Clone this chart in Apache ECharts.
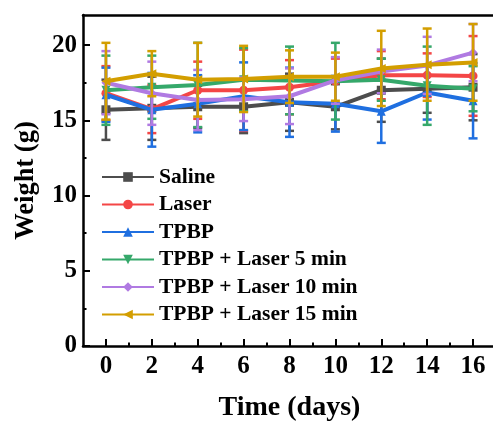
<!DOCTYPE html>
<html>
<head>
<meta charset="utf-8">
<script src="https://cdn.jsdelivr.net/npm/echarts@6/dist/echarts.min.js"></script>
<style>
  html, body { margin: 0; padding: 0; background: #fff; }
  #chart { width: 493px; height: 421px; }
</style>
</head>
<body>
<div id="chart"></div>
<script>
// Body weight over time (mean ± SD) for each treatment group
const days = [0, 2, 4, 6, 8, 10, 12, 14, 16];
const groupNames = ['Saline', 'Laser', 'TPBP', 'TPBP + Laser 5 min', 'TPBP + Laser 10 min', 'TPBP + Laser 15 min'];

const saline    = [15.7, 15.8, 15.9, 15.9, 16.2, 15.9, 17.0, 17.1, 17.2];
const salineErr = [2.0, 2.1, 1.4, 1.75, 1.9, 1.5, 2.1, 1.6, 2.2];
const laser     = [16.8, 15.75, 17.0, 17.0, 17.2, 17.6, 18.0, 18.0, 17.95];
const laserErr  = [1.8, 1.6, 1.9, 2.7, 1.8, 1.5, 1.6, 1.45, 2.65];
const tpbp      = [16.7, 15.7, 16.1, 16.6, 16.2, 16.1, 15.6, 16.85, 16.3];
const tpbpErr   = [1.8, 2.45, 1.9, 2.25, 2.3, 1.85, 2.1, 1.8, 2.5];
const laser5    = [17.0, 17.2, 17.35, 17.7, 17.65, 17.6, 17.7, 17.3, 17.1];
const laser5Err = [2.3, 2.1, 2.8, 2.1, 2.25, 2.55, 1.4, 2.6, 1.5];
const laser10   = [17.5, 16.8, 16.35, 16.4, 16.6, 17.65, 18.25, 18.65, 19.5];
const laser10Err= [2.1, 2.1, 2.0, 1.45, 1.85, 1.55, 1.45, 1.9, 1.9];
const laser15   = [17.6, 18.1, 17.7, 17.75, 17.9, 17.9, 18.45, 18.7, 18.85];
const laser15Err= [2.55, 1.5, 2.45, 2.2, 1.75, 1.6, 2.5, 2.4, 2.55];

const yTicks = [0, 5, 10, 15, 20];
const yMinorTicks = [2.5, 7.5, 12.5, 17.5];
const xTicks = [0, 2, 4, 6, 8, 10, 12, 14, 16];
const xMinorTicks = [1, 3, 5, 7, 9, 11, 13, 15];

const means = [saline, laser, tpbp, laser5, laser10, laser15];
const errs = [salineErr, laserErr, tpbpErr, laser5Err, laser10Err, laser15Err];
const colors = ['#4d4d4d', '#f44646', '#1f6fe0', '#35a86a', '#b07ae2', '#d39e00'];
const symbols = [
  'rect',
  'circle',
  'triangle',
  'path://M0,0 L10,0 L5,10 Z',
  'diamond',
  'path://M0,5 L10,0 L10,10 Z'
];

const FONT = '"Liberation Serif", "Times New Roman", serif';

function errorBarSeries(idx) {
  const color = colors[idx];
  const data = days.map((d, i) => [d, means[idx][i] - errs[idx][i], means[idx][i] + errs[idx][i]]);
  return {
    type: 'custom',
    name: groupNames[idx] + ' SD',
    xAxisIndex: 0,
    yAxisIndex: 0,
    z: 2 + idx * 2,
    silent: true,
    data: data,
    encode: { x: 0, y: [1, 2] },
    renderItem: function (params, api) {
      const x = api.value(0);
      const lo = api.coord([x, api.value(1)]);
      const hi = api.coord([x, api.value(2)]);
      const hw = 4.5;
      const st = { stroke: color, lineWidth: 2.5 };
      return {
        type: 'group',
        children: [
          { type: 'line', shape: { x1: hi[0], y1: hi[1], x2: lo[0], y2: lo[1] }, style: st },
          { type: 'line', shape: { x1: hi[0] - hw, y1: hi[1], x2: hi[0] + hw, y2: hi[1] }, style: st },
          { type: 'line', shape: { x1: lo[0] - hw, y1: lo[1], x2: lo[0] + hw, y2: lo[1] }, style: st }
        ]
      };
    }
  };
}

function lineSeries(idx) {
  return {
    type: 'line',
    name: groupNames[idx],
    xAxisIndex: 0,
    yAxisIndex: 0,
    z: 3 + idx * 2,
    data: days.map((d, i) => [d, means[idx][i]]),
    symbol: symbols[idx],
    symbolSize: 9,
    showAllSymbol: true,
    lineStyle: { color: colors[idx], width: 4 },
    itemStyle: { color: colors[idx] },
    emphasis: { disabled: true },
    animation: false
  };
}

const series = [];
for (let i = 0; i < groupNames.length; i++) {
  series.push(errorBarSeries(i));
  series.push(lineSeries(i));
}

const axisLineStyle = { color: '#000', width: 2.5 };

const chart = echarts.init(document.getElementById('chart'), null, { renderer: 'canvas' });
chart.setOption({
  animation: false,
  backgroundColor: '#fff',
  grid: { left: 83, top: 15, right: -3, bottom: 75, containLabel: false, outerBoundsMode: 'none' },
  legend: {
    data: groupNames,
    orient: 'vertical',
    left: 96,
    top: 161,
    itemWidth: 52,
    itemHeight: 12,
    itemGap: 5.5,
    textStyle: { fontFamily: FONT, fontWeight: 'bold', fontSize: 21.5, lineHeight: 21, color: '#000' },
    selectedMode: false
  },
  xAxis: [
    {
      type: 'value', position: 'bottom', min: -1, max: 17,
      axisLine: { show: true, onZero: false, lineStyle: axisLineStyle },
      axisTick: { show: true, inside: true, length: 7, lineStyle: { color: '#000', width: 2 }, customValues: xTicks },
      axisLabel: { show: true, customValues: xTicks, margin: 8, fontFamily: FONT, fontWeight: 'bold', fontSize: 25, color: '#000' },
      splitLine: { show: false },
      name: 'Time (days)', nameLocation: 'middle', nameGap: 48,
      nameTextStyle: { fontFamily: FONT, fontWeight: 'bold', fontSize: 28, color: '#000' }
    },
    {
      type: 'value', position: 'bottom', min: -1, max: 17,
      axisLine: { show: false, onZero: false },
      axisTick: { show: true, inside: true, length: 3.5, lineStyle: { color: '#000', width: 2 }, customValues: xMinorTicks },
      axisLabel: { show: false },
      splitLine: { show: false }
    },
    {
      type: 'value', position: 'top', min: -1, max: 17,
      axisLine: { show: true, onZero: false, lineStyle: axisLineStyle },
      axisTick: { show: false },
      axisLabel: { show: false },
      splitLine: { show: false }
    }
  ],
  yAxis: [
    {
      type: 'value', position: 'left', min: 0, max: 22,
      axisLine: { show: true, onZero: false, lineStyle: axisLineStyle },
      axisTick: { show: true, inside: true, length: 7, lineStyle: { color: '#000', width: 2 }, customValues: yTicks },
      axisLabel: { show: true, customValues: yTicks, margin: 6, fontFamily: FONT, fontWeight: 'bold', fontSize: 25, color: '#000' },
      splitLine: { show: false },
      name: 'Weight (g)', nameLocation: 'middle', nameGap: 43, nameRotate: 90,
      nameTextStyle: { fontFamily: FONT, fontWeight: 'bold', fontSize: 26.5, color: '#000' }
    },
    {
      type: 'value', position: 'left', min: 0, max: 22,
      axisLine: { show: false, onZero: false },
      axisTick: { show: true, inside: true, length: 3.5, lineStyle: { color: '#000', width: 2 }, customValues: yMinorTicks },
      axisLabel: { show: false },
      splitLine: { show: false }
    }
  ],
  series: series
});
</script>
</body>
</html>
